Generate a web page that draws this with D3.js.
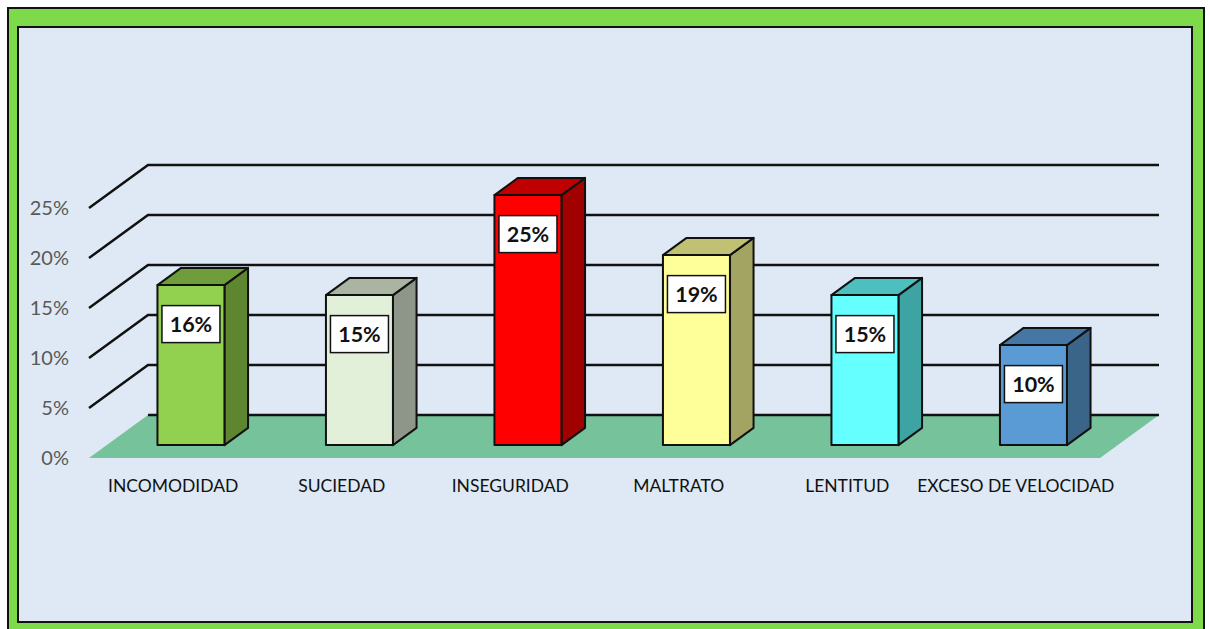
<!DOCTYPE html>
<html>
<head>
<meta charset="utf-8">
<script src="https://cdn.jsdelivr.net/npm/d3@7"></script>
<style>
  html, body { margin: 0; padding: 0; background: #fff; }
  svg { display: block; }
</style>
</head>
<body>
<div id="chart"></div>
<script>
// reclamos de usuarios - barras 3D
const categories = ['INCOMODIDAD', 'SUCIEDAD', 'INSEGURIDAD', 'MALTRATO', 'LENTITUD', 'EXCESO DE VELOCIDAD'];
const values = [0.16, 0.15, 0.25, 0.19, 0.15, 0.10];
const tickValues = [0, 0.05, 0.10, 0.15, 0.20, 0.25];
const frontColors = ['#92d050', '#e2efd9', '#ff0000', '#ffff99', '#66ffff', '#5b9bd5'];
const topColors   = ['#6f9d3b', '#aab4a3', '#c00000', '#c1c174', '#4dbfbf', '#4677a4'];
const sideColors  = ['#5e8631', '#8e9589', '#a00000', '#a3a362', '#3ea3a3', '#3a6488'];

(function(){
  const W = 1210, H = 629;
  const svg = d3.select('#chart').append('svg')
    .attr('width', W).attr('height', H);

  // frame
  svg.append('rect')
    .attr('x', 8).attr('y', 8).attr('width', 1196).attr('height', 640)
    .attr('fill', '#7ed94b').attr('stroke', '#111').attr('stroke-width', 2);
  svg.append('rect')
    .attr('x', 18).attr('y', 27).attr('width', 1174).attr('height', 595)
    .attr('fill', '#dee9f5').attr('stroke', '#111').attr('stroke-width', 2);

  // front plane geometry + depth offset
  const left = 89, right = 1100, base = 458;
  const depthX = 59, depthY = 43;
  const x = d3.scaleBand().domain(categories).range([left, right]).padding(0);
  const y = d3.scaleLinear().domain([0, 0.25]).range([base, base - 250]);
  const proj = (px, v, z) => [px + z * depthX, y(v) - z * depthY];

  const g = svg.append('g');

  // floor
  const floor = [proj(left, 0, 0), proj(left, 0, 1), proj(right, 0, 1), proj(right, 0, 0)];
  g.append('path')
    .attr('d', d3.line()(floor) + 'Z')
    .attr('fill', '#76c29b');

  // gridlines (oblique on the side wall, flat on back wall)
  tickValues.forEach(t => {
    const pts = t === 0
      ? [proj(left, t, 1), proj(right, t, 1)]
      : [proj(left, t, 0), proj(left, t, 1), proj(right, t, 1)];
    g.append('path')
      .attr('d', d3.line()(pts))
      .attr('fill', 'none')
      .attr('stroke', '#111')
      .attr('stroke-width', 2.5);
  });

  // y axis labels
  const yAxis = g.append('g')
    .attr('transform', `translate(${left - 20},0)`)
    .call(d3.axisLeft(y).tickValues(tickValues).tickFormat(d3.format('.0%')).tickSize(0).tickPadding(0));
  yAxis.select('.domain').remove();
  yAxis.selectAll('text')
    .attr('fill', '#595959')
    .style('font-family', 'Lato, "Noto Sans", sans-serif')
    .style('font-size', '20px');

  // x axis labels
  const xAxis = g.append('g')
    .attr('transform', `translate(0,${base + 22})`)
    .call(d3.axisBottom(x).tickSize(0).tickPadding(0));
  xAxis.select('.domain').remove();
  xAxis.selectAll('text')
    .attr('fill', '#111')
    .style('font-family', 'Lato, "Noto Sans", sans-serif')
    .style('font-size', '17.5px');

  // bars
  const bw = 67, z0 = 0.3, z1 = 0.7;
  const bars = g.selectAll('g.bar')
    .data(categories.map((c, i) => ({c, v: values[i], i})))
    .join('g').attr('class', 'bar');

  bars.each(function(d){
    const sel = d3.select(this);
    const cx = x(d.c) + x.bandwidth() / 2;
    const x0 = cx - bw / 2, x1 = cx + bw / 2;
    const front = [proj(x0, 0, z0), proj(x0, d.v, z0), proj(x1, d.v, z0), proj(x1, 0, z0)];
    const top = [proj(x0, d.v, z0), proj(x0, d.v, z1), proj(x1, d.v, z1), proj(x1, d.v, z0)];
    const side = [proj(x1, 0, z0), proj(x1, d.v, z0), proj(x1, d.v, z1), proj(x1, 0, z1)];
    const faces = [[side, sideColors[d.i]], [top, topColors[d.i]], [front, frontColors[d.i]]];
    faces.forEach(([pts, col]) => {
      sel.append('path')
        .attr('d', d3.line()(pts) + 'Z')
        .attr('fill', col)
        .attr('stroke', '#111')
        .attr('stroke-width', 2)
        .attr('stroke-linejoin', 'round');
    });

    // data label
    const [lx, ly] = proj(cx, d.v, z0);
    const lab = sel.append('g').attr('transform', `translate(${lx},${ly + 39})`);
    lab.append('rect')
      .attr('x', -29).attr('y', -18.5).attr('width', 58).attr('height', 37)
      .attr('fill', '#fff').attr('stroke', '#111').attr('stroke-width', 1.5);
    lab.append('text')
      .attr('text-anchor', 'middle')
      .attr('dy', '0.36em')
      .style('font-family', 'Lato, "Noto Sans", sans-serif')
      .style('font-weight', 'bold')
      .style('font-size', '21.5px')
      .attr('fill', '#111')
      .text(d3.format('.0%')(d.v));
  });
})();
</script>
</body>
</html>
